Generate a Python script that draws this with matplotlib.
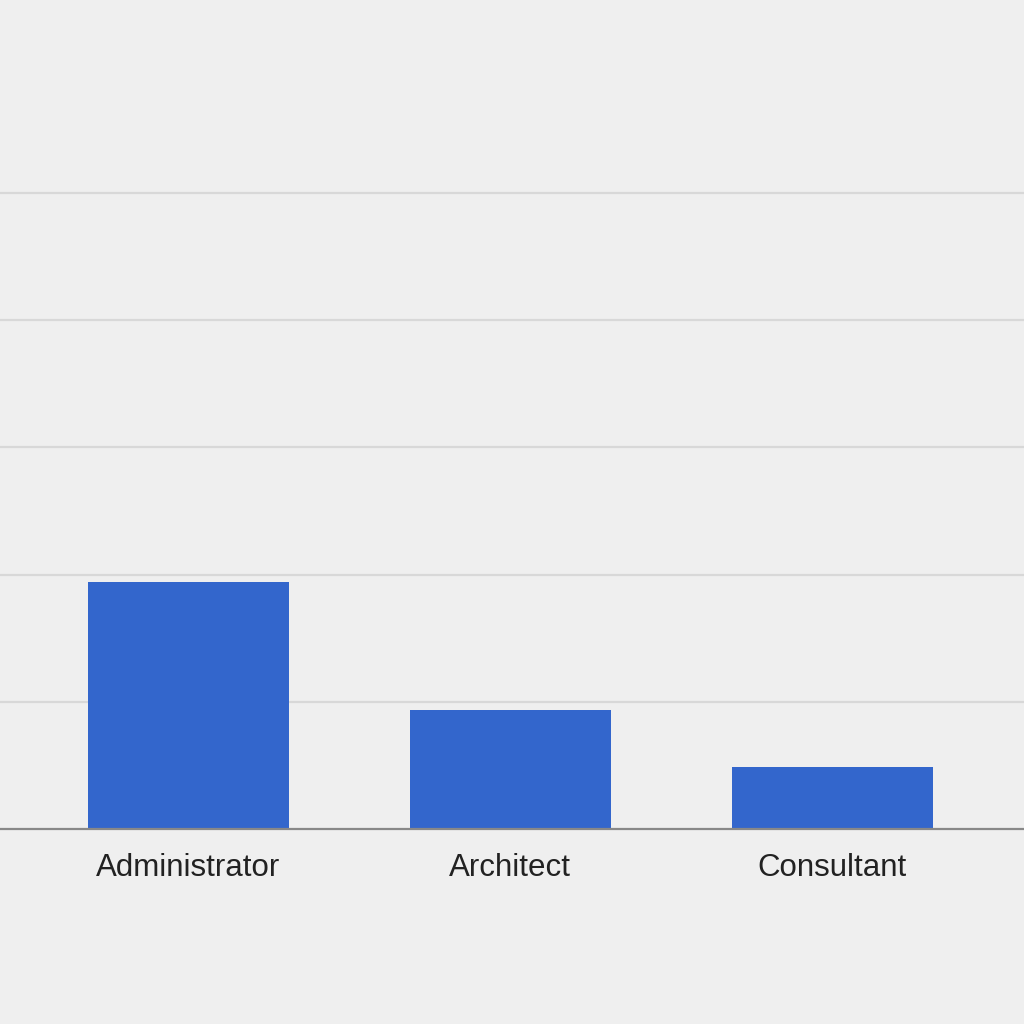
import matplotlib
matplotlib.use("Agg")
import matplotlib.pyplot as plt

categories = ["Administrator", "Architect", "Consultant"]
values = [1.94, 0.935, 0.49]
grid_ticks = [1, 2, 3, 4, 5]

bg = "#efefef"
fig = plt.figure(figsize=(10.24, 10.24), dpi=100, facecolor=bg)
ax = fig.add_axes([0, 0.1904, 1, 0.8096])
ax.set_facecolor(bg)

x = range(len(categories))
ax.bar(x, values, width=0.624, color="#3366cc", zorder=3)

ax.set_xlim(-0.585, 2.595)
ax.set_ylim(0, 6.517)
ax.set_yticks(grid_ticks)
ax.yaxis.grid(True, color="#d8d8d8", linewidth=1.6, zorder=1)
ax.tick_params(axis="y", length=0, labelleft=False)
ax.set_xticks(list(x))
ax.set_xticklabels(categories, fontsize=22.5, family=["Liberation Sans", "DejaVu Sans"], color="#222222")
ax.tick_params(axis="x", length=0, pad=17.5)
for s in ["top", "right", "left"]:
    ax.spines[s].set_visible(False)
ax.spines["bottom"].set_color("#888888")
ax.spines["bottom"].set_linewidth(1.6)
ax.spines["bottom"].set_zorder(4)

fig.savefig("out.png", dpi=100, facecolor=bg)
